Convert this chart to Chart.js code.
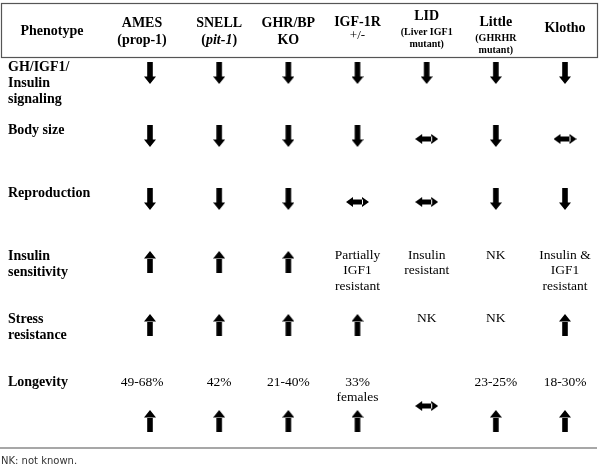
<!DOCTYPE html>
<html>
<head>
<meta charset="utf-8">
<script src="https://cdn.jsdelivr.net/npm/chart.js@4"></script>
<style>
  html, body { margin: 0; padding: 0; background: #fff; }
  #wrap { width: 600px; height: 467px; position: relative; }
</style>
</head>
<body>
<div id="wrap"><canvas id="phenoChart"></canvas></div>
<script>
// --- Table data ---
const headerTitle = 'Phenotype';
const models = ['AMES', 'SNELL', 'GHR/BP', 'IGF-1R', 'LID', 'Little', 'Klotho'];
const modelNotes = ['(prop-1)', '(pit-1)', 'KO', '+/-', '(Liver IGF1\nmutant)', '(GHRHR\nmutant)', ''];
const phenotypes = ['GH/IGF1/\nInsulin\nsignaling', 'Body size', 'Reproduction', 'Insulin\nsensitivity', 'Stress\nresistance', 'Longevity'];

// 'up' / 'down' / 'both' are arrows, anything else is written as text
const ghSignaling = ['down', 'down', 'down', 'down', 'down', 'down', 'down'];
const bodySize = ['down', 'down', 'down', 'down', 'both', 'down', 'both'];
const reproduction = ['down', 'down', 'down', 'both', 'both', 'down', 'down'];
const insulinSensitivity = ['up', 'up', 'up', 'Partially\nIGF1\nresistant', 'Insulin\nresistant', 'NK', 'Insulin &\nIGF1\nresistant'];
const stressResistance = ['up', 'up', 'up', 'up', 'NK', 'NK', 'up'];
const longevity = ['up', 'up', 'up', 'up', 'both', 'up', 'up'];
const longevityGain = ['49-68%', '42%', '21-40%', '33%\nfemales', '', '23-25%', '18-30%'];
const footnote = 'NK: not known.';

const rows = [ghSignaling, bodySize, reproduction, insulinSensitivity, stressResistance, longevity];
const LONGEVITY_ROW = 5;

// --- Arrow glyphs used as point styles ---
const makeArrow = (kind, shift) => {
    const w = kind === 'both' ? 23 : 12;
    const h = kind === 'both' ? 10 : 22;
    const c = document.createElement('canvas');
    c.width = w;
    c.height = h + 2 * shift;
    const g = c.getContext('2d');
    g.fillStyle = '#000';
    g.translate(0, 2 * shift);
    g.beginPath();
    if (kind === 'down') {
        g.rect(w / 2 - 2.8, 0, 5.6, h - 7);
        g.moveTo(0, h - 7.5); g.lineTo(w, h - 7.5); g.lineTo(w / 2, h);
    } else if (kind === 'up') {
        g.rect(w / 2 - 2.8, 7, 5.6, h - 7);
        g.moveTo(0, 7.5); g.lineTo(w, 7.5); g.lineTo(w / 2, 0);
    } else {
        g.rect(6, h / 2 - 2.6, w - 12, 5.2);
        g.moveTo(7, 0); g.lineTo(7, h); g.lineTo(0, h / 2);
        g.moveTo(w - 7, 0); g.lineTo(w - 7, h); g.lineTo(w, h / 2);
    }
    g.fill();
    return c;
};

const glyphs = {
    up: makeArrow('up', 0), down: makeArrow('down', 0), both: makeArrow('both', 3),
    upLow: makeArrow('up', 33), bothLow: makeArrow('both', 18)
};

const arrowPoints = [];
rows.forEach((row, r) => {
    row.forEach((v, c) => {
        if (v === 'up' || v === 'down' || v === 'both') {
            const key = r === LONGEVITY_ROW && v !== 'down' ? v + 'Low' : v;
            arrowPoints.push({ x: c, y: r, kind: key });
        }
    });
});

// --- Text, header box and rules ---
const tablePlugin = {
    id: 'tableText',
    afterDraw(chart) {
        const ctx = chart.ctx;
        const xs = chart.scales.x, ys = chart.scales.y;
        const lines = (txt, x, y, lh) => {
            txt.split('\n').forEach((t, i) => ctx.fillText(t, x, y + i * lh));
        };
        const colX = (i) => xs.getPixelForValue(i) - (i === 0 ? 8 : 0);
        ctx.save();
        ctx.fillStyle = '#000';
        ctx.textBaseline = 'middle';

        // header box
        ctx.strokeStyle = '#555';
        ctx.lineWidth = 1.2;
        ctx.strokeRect(1.5, 3.5, 596, 54);

        ctx.textAlign = 'center';
        ctx.font = 'bold 14px "Liberation Serif"';
        ctx.fillText(headerTitle, 52, 31);
        models.forEach((m, i) => {
            const x = colX(i);
            const note = modelNotes[i];
            ctx.font = 'bold 14px "Liberation Serif"';
            if (!note) { ctx.fillText(m, x, 28); return; }
            if (note.includes('\n')) {
                const top = i === 4 ? 16 : 22;
                ctx.fillText(m, x, top);
                ctx.font = 'bold 10px "Liberation Serif"';
                lines(note, x, top + 16, 12);
            } else if (m === 'IGF-1R') {
                ctx.fillText(m, x, 22);
                ctx.font = '13px "Liberation Serif"';
                ctx.fillText(note, x, 36);
            } else {
                ctx.fillText(m, x, 23);
                if (i === 1) {
                    // "(pit-1)" with the gene name in italics
                    const wp = ctx.measureText('(').width;
                    ctx.font = 'bold italic 14px "Liberation Serif"';
                    const w1 = ctx.measureText('pit-1').width;
                    let cx = x - (w1 + 2 * wp) / 2;
                    ctx.textAlign = 'left';
                    ctx.font = 'bold 14px "Liberation Serif"';
                    ctx.fillText('(', cx, 40); cx += wp;
                    ctx.font = 'bold italic 14px "Liberation Serif"';
                    ctx.fillText('pit-1', cx, 40); cx += w1;
                    ctx.font = 'bold 14px "Liberation Serif"';
                    ctx.fillText(')', cx, 40);
                    ctx.textAlign = 'center';
                } else {
                    ctx.fillText(note, x, 40);
                }
            }
        });

        // row labels
        ctx.textAlign = 'left';
        ctx.font = 'bold 14px "Liberation Serif"';
        phenotypes.forEach((p, r) => lines(p, 8, ys.getPixelForValue(r) - 6, 16));

        // text cells
        ctx.textAlign = 'center';
        ctx.font = '13.5px "Liberation Serif"';
        rows.forEach((row, r) => {
            row.forEach((v, c) => {
                if (v === 'up' || v === 'down' || v === 'both') return;
                lines(v, colX(c), ys.getPixelForValue(r) - 7, 15.5);
            });
        });
        longevityGain.forEach((v, c) => {
            if (v) lines(v, colX(c), ys.getPixelForValue(LONGEVITY_ROW) - 6, 15.5);
        });

        // bottom rule and footnote
        ctx.strokeStyle = '#8a8a8a';
        ctx.lineWidth = 1.5;
        ctx.beginPath();
        ctx.moveTo(0, 448);
        ctx.lineTo(597, 448);
        ctx.stroke();
        ctx.textAlign = 'left';
        ctx.fillStyle = '#333';
        ctx.font = '10px "DejaVu Sans"';
        ctx.fillText(footnote, 1, 461);
        ctx.restore();
    }
};

new Chart(document.getElementById('phenoChart'), {
    type: 'scatter',
    data: {
        datasets: [{
            data: arrowPoints,
            pointStyle: (c) => glyphs[c.raw.kind],
            pointRadius: 10,
            clip: false
        }]
    },
    options: {
        responsive: true,
        maintainAspectRatio: false,
        animation: false,
        events: [],
        layout: { padding: { left: 150, right: 35, top: 73, bottom: 79 } },
        plugins: { legend: { display: false }, tooltip: { enabled: false } },
        scales: {
            x: { type: 'linear', display: false, min: 0, max: 6 },
            y: { type: 'linear', display: false, min: 0, max: 5, reverse: true }
        }
    },
    plugins: [tablePlugin]
});
</script>
</body>
</html>
